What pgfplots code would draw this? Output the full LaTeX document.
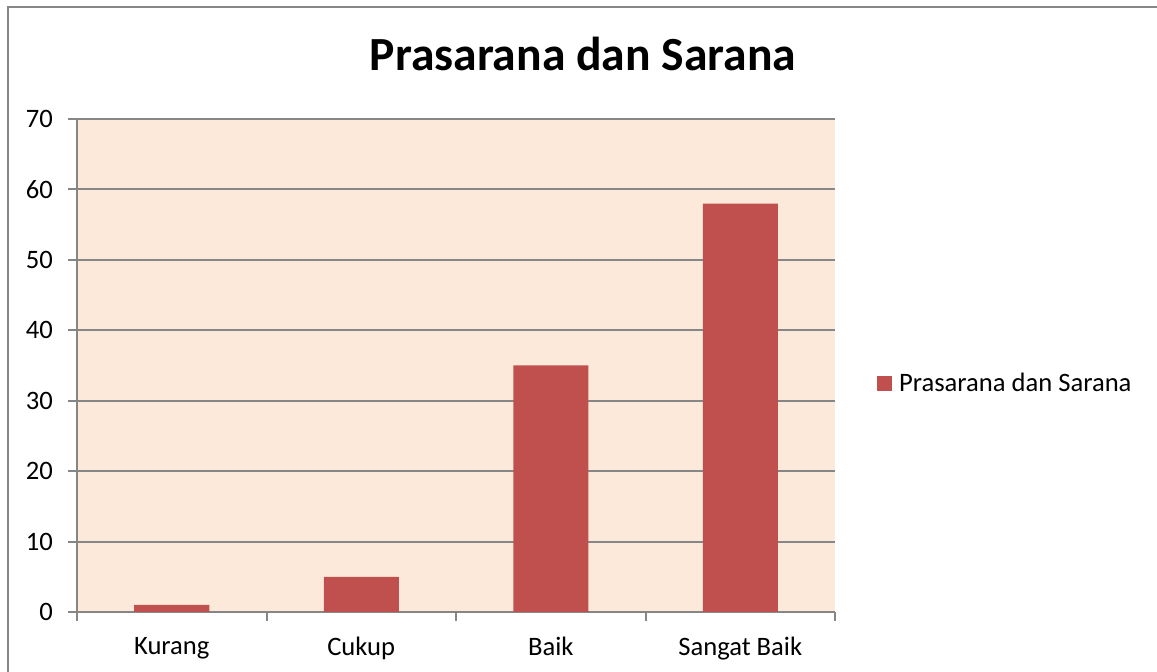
\documentclass[border=0pt]{standalone}
\usepackage{pgfplots}
\pgfplotsset{compat=1.18}
\usepackage{fontspec}
\setmainfont{Carlito}
\definecolor{barred}{HTML}{C0504D}
\definecolor{peach}{HTML}{FDE9D9}
\definecolor{gridgray}{HTML}{868686}
\begin{document}
\begin{tikzpicture}
\useasboundingbox (0pt,0pt) rectangle (578.5pt,-336pt);
\fill[white] (0pt,0pt) rectangle (578.5pt,-336pt);
\draw[gridgray,line width=0.8pt] (4pt,-340pt) -- (4pt,-3.5pt) -- (580pt,-3.5pt);
\begin{axis}[
  at={(38.5pt,-306pt)}, anchor=south west,
  scale only axis, width=379pt, height=246.5pt,
  ybar, bar width=37.5pt,
  xmin=-0.5, xmax=3.5, ymin=0, ymax=70,
  xtick={0,1,2,3},
  xticklabels={Kurang,Cukup,Baik,Sangat Baik},
  minor xtick={-0.5,0.5,1.5,2.5,3.5},
  ytick={0,10,...,70},
  /pgf/number format/assume math mode=true,
  tick label style={font=\fontsize{13.3}{15}\selectfont},
  major x tick style={draw=none},
  minor x tick style={gridgray, line width=1pt},
  y tick style={gridgray, line width=1pt},
  tick align=outside,
  major tick length=4.5pt, minor tick length=4.5pt,
  xticklabel style={yshift=-4.5pt},
  yticklabel style={xshift=-4pt},
  ymajorgrids, grid style={gridgray, line width=1pt},
  axis x line*=bottom, axis y line*=left,
  axis line style={gridgray, line width=1pt, -},
  axis background/.style={fill=peach},
  title={Prasarana dan Sarana},
  title style={font=\fontsize{23.8}{28}\selectfont\bfseries, at={(0.6675,1)}, anchor=center, yshift=26.5pt},
  legend style={at={(1.055,0.4625)}, anchor=west, draw=none, fill=none, font=\fontsize{13.3}{15}\selectfont, inner sep=0pt},
  legend image code/.code={\fill[barred] (0pt,-3.75pt) rectangle (7.5pt,3.75pt); \path (9pt,0pt);},
]
\addplot[fill=barred, draw=none] coordinates {(0,1) (1,5) (2,35) (3,58)};
\addlegendentry{Prasarana dan Sarana}
\end{axis}
\end{tikzpicture}
\end{document}
